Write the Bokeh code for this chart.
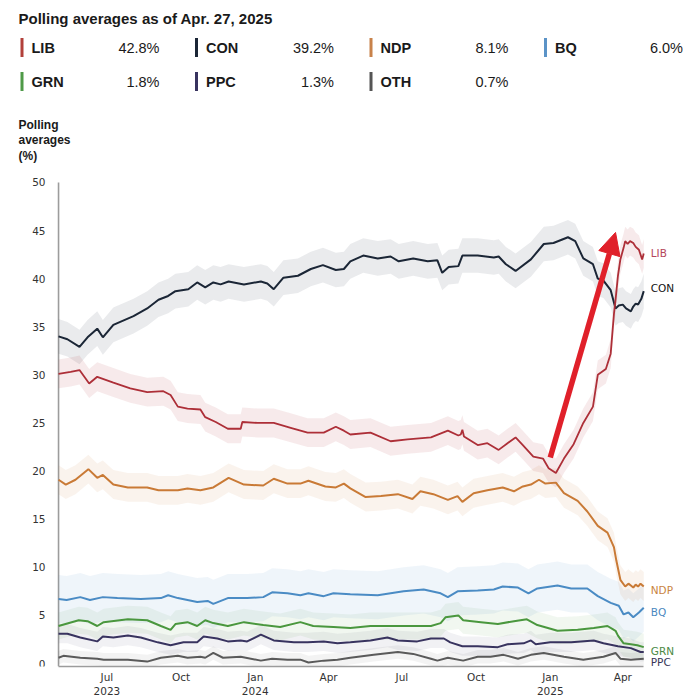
import numpy as np
import pandas as pd
from bokeh.plotting import figure
from bokeh.layouts import column
from bokeh.models import Range1d, FixedTicker, Label, Arrow, NormalHead
from bokeh.core.properties import value
from bokeh.embed import file_html
from bokeh.resources import INLINE

# ---------------- data ----------------
TITLE = "Polling averages as of Apr. 27, 2025"
Y_TITLE = ["Polling", "averages", "(%)"]
PARTIES = ["LIB", "CON", "NDP", "BQ", "GRN", "PPC", "OTH"]
LATEST = ["42.8%", "39.2%", "8.1%", "6.0%", "1.8%", "1.3%", "0.7%"]

CON_DATES = ["2023-05-02","2023-05-13","2023-05-28","2023-06-07","2023-06-19","2023-06-26","2023-07-09","2023-08-03","2023-08-20","2023-09-03","2023-09-15","2023-09-24","2023-10-10","2023-10-21","2023-10-31","2023-11-10","2023-11-19","2023-11-29","2023-12-18","2024-01-08","2024-01-16","2024-01-24","2024-02-05","2024-02-23","2024-03-10","2024-03-25","2024-04-10","2024-04-20","2024-04-28","2024-05-14","2024-06-01","2024-06-17","2024-06-27","2024-07-15","2024-08-02","2024-08-14","2024-08-20","2024-08-28","2024-09-09","2024-09-14","2024-10-03","2024-10-23","2024-10-29","2024-11-07","2024-11-19","2024-12-08","2024-12-24","2025-01-05","2025-01-23","2025-02-01","2025-02-11","2025-02-23","2025-03-01","2025-03-08","2025-03-17","2025-03-23","2025-03-27","2025-04-01","2025-04-05","2025-04-11","2025-04-14","2025-04-17","2025-04-20","2025-04-24","2025-04-27"]
CON_VALUES = [34.0,33.7,32.9,33.9,34.8,33.9,35.2,36.1,36.9,37.8,38.2,38.7,38.9,39.6,39.1,39.6,39.4,39.7,39.4,39.7,39.5,38.9,40.1,40.3,41.0,41.4,40.9,41.0,41.8,42.4,42.1,42.3,41.8,42.1,41.8,41.9,40.6,41.2,41.3,42.4,42.4,42.2,42.3,41.5,40.8,42.0,43.6,43.7,44.3,43.9,42.1,41.5,40.0,39.8,38.8,36.9,37.2,37.3,36.9,36.6,37.1,37.4,37.3,37.9,38.7]

LIB_DATES = ["2023-05-02","2023-05-17","2023-05-28","2023-06-09","2023-06-19","2023-07-09","2023-07-30","2023-08-20","2023-09-09","2023-09-18","2023-09-27","2023-10-09","2023-10-25","2023-10-31","2023-11-13","2023-11-28","2023-12-14","2023-12-16","2024-01-04","2024-01-24","2024-02-14","2024-03-06","2024-03-26","2024-04-10","2024-04-20","2024-04-28","2024-05-23","2024-06-17","2024-07-08","2024-08-06","2024-08-27","2024-09-09","2024-09-12","2024-09-14","2024-09-16","2024-10-03","2024-10-15","2024-10-29","2024-11-09","2024-11-19","2024-11-28","2024-12-11","2024-12-23","2024-12-30","2025-01-08","2025-01-18","2025-01-30","2025-02-11","2025-02-23","2025-03-01","2025-03-11","2025-03-17","2025-03-21","2025-03-23","2025-03-26","2025-03-29","2025-04-02","2025-04-04","2025-04-07","2025-04-10","2025-04-14","2025-04-17","2025-04-21","2025-04-25","2025-04-27"]
LIB_VALUES = [30.1,30.3,30.5,29.1,29.8,29.2,28.6,28.2,28.3,27.9,26.7,26.5,26.4,25.6,25.1,24.4,24.4,25.1,25.0,25.0,24.5,24.0,24.0,24.6,24.2,23.8,24.0,23.1,23.3,23.5,24.2,23.7,23.8,24.3,23.6,22.7,22.9,22.2,22.9,23.5,22.7,21.5,21.3,20.3,19.8,21.3,22.8,25.0,26.7,30.0,30.6,32.2,36.3,37.8,40.3,42.0,43.2,43.9,43.6,43.9,43.7,43.3,43.0,42.0,42.6]

NDP_DATES = ["2023-05-02","2023-05-11","2023-05-23","2023-06-08","2023-06-19","2023-06-26","2023-07-09","2023-07-27","2023-08-20","2023-09-03","2023-09-27","2023-10-09","2023-10-25","2023-11-10","2023-11-29","2023-12-18","2024-01-11","2024-01-24","2024-02-10","2024-02-26","2024-03-07","2024-03-28","2024-04-10","2024-04-20","2024-04-28","2024-05-17","2024-06-05","2024-06-26","2024-07-14","2024-07-24","2024-08-09","2024-08-27","2024-09-08","2024-09-14","2024-09-28","2024-10-15","2024-11-03","2024-11-17","2024-11-28","2024-12-08","2024-12-18","2024-12-26","2025-01-08","2025-01-18","2025-02-04","2025-02-16","2025-03-01","2025-03-13","2025-03-21","2025-03-24","2025-03-29","2025-04-04","2025-04-08","2025-04-11","2025-04-14","2025-04-17","2025-04-20","2025-04-23","2025-04-27"]
NDP_VALUES = [19.1,18.6,19.1,20.2,19.3,19.6,18.6,18.3,18.3,18.0,18.0,18.2,18.0,18.3,19.3,18.6,18.5,19.2,18.7,18.7,19.0,18.4,18.3,18.7,18.2,17.3,17.4,17.6,17.1,17.9,17.6,17.0,17.4,16.8,17.7,18.0,18.3,17.9,18.4,18.6,19.1,18.7,18.8,17.7,16.9,15.8,14.3,13.6,12.1,10.7,8.7,8.0,8.3,8.1,7.9,8.2,8.0,8.3,8.0]

BQ_DATES = ["2023-05-02","2023-05-12","2023-05-29","2023-06-10","2023-06-26","2023-07-14","2023-08-12","2023-09-06","2023-09-15","2023-09-27","2023-10-21","2023-11-03","2023-11-10","2023-11-28","2023-12-22","2024-01-11","2024-01-22","2024-02-10","2024-02-26","2024-03-07","2024-03-26","2024-04-07","2024-04-28","2024-06-01","2024-07-03","2024-07-28","2024-08-18","2024-08-27","2024-09-08","2024-10-03","2024-10-23","2024-11-03","2024-11-22","2024-12-05","2024-12-16","2025-01-10","2025-01-27","2025-02-16","2025-03-01","2025-03-17","2025-03-27","2025-04-02","2025-04-08","2025-04-14","2025-04-21","2025-04-27"]
BQ_VALUES = [6.7,6.6,6.9,6.6,6.9,6.8,6.7,6.8,7.1,6.8,6.4,6.5,6.2,6.8,6.8,6.9,7.4,7.3,7.1,7.3,7.0,7.3,7.2,7.1,7.5,7.7,7.3,6.9,7.5,7.6,7.7,8.0,7.9,7.3,7.8,8.1,7.8,7.8,7.0,6.3,6.0,5.1,5.3,4.8,5.3,5.8]

GRN_DATES = ["2023-05-02","2023-05-27","2023-06-07","2023-06-19","2023-06-27","2023-07-27","2023-08-20","2023-09-06","2023-09-18","2023-09-24","2023-10-09","2023-10-21","2023-10-31","2023-11-10","2023-11-28","2023-12-18","2024-01-11","2024-02-01","2024-02-26","2024-03-13","2024-04-07","2024-04-28","2024-05-23","2024-06-26","2024-08-06","2024-08-18","2024-08-24","2024-09-09","2024-09-15","2024-10-07","2024-10-28","2024-11-17","2024-12-03","2024-12-16","2025-01-10","2025-02-04","2025-02-24","2025-03-13","2025-03-19","2025-03-23","2025-03-26","2025-04-02","2025-04-11","2025-04-19","2025-04-27"]
GRN_VALUES = [3.9,4.5,4.4,3.9,4.3,4.6,4.5,3.9,3.5,4.1,4.3,3.9,4.5,4.2,3.9,4.3,4.0,3.8,4.3,3.9,3.8,3.7,3.9,3.9,3.9,4.2,4.8,5.0,4.5,4.3,4.1,4.4,4.6,4.0,3.4,3.5,3.7,3.9,3.6,3.4,2.9,2.1,2.0,1.9,1.7]

PPC_DATES = ["2023-05-02","2023-05-13","2023-05-29","2023-06-19","2023-06-26","2023-07-09","2023-07-27","2023-08-12","2023-09-02","2023-09-18","2023-10-04","2023-10-21","2023-10-29","2023-11-15","2023-11-28","2023-12-14","2023-12-22","2024-01-08","2024-01-24","2024-02-18","2024-03-06","2024-03-26","2024-04-12","2024-04-28","2024-05-23","2024-06-13","2024-06-26","2024-07-20","2024-08-06","2024-08-22","2024-08-30","2024-09-14","2024-10-03","2024-10-28","2024-11-09","2024-11-29","2024-12-08","2024-12-14","2025-01-01","2025-01-27","2025-02-24","2025-03-08","2025-03-26","2025-04-11","2025-04-23","2025-04-27"]
PPC_VALUES = [3.1,3.1,2.7,2.3,2.8,2.7,2.9,2.7,2.2,1.9,2.2,2.2,2.8,2.6,2.3,2.4,2.3,3.0,2.4,2.2,2.2,2.3,2.1,2.2,2.4,2.7,2.4,2.3,2.6,2.6,2.2,1.8,1.8,1.7,2.0,2.1,2.4,2.0,2.2,2.2,2.4,2.1,1.8,1.6,1.2,1.2]

OTH_DATES = ["2023-05-02","2023-05-08","2023-05-29","2023-06-19","2023-06-27","2023-07-27","2023-08-20","2023-09-06","2023-09-27","2023-10-09","2023-10-25","2023-10-31","2023-11-10","2023-11-22","2023-12-14","2024-01-08","2024-01-22","2024-02-10","2024-02-26","2024-03-07","2024-03-26","2024-04-12","2024-04-28","2024-05-27","2024-06-26","2024-07-15","2024-08-06","2024-08-14","2024-08-27","2024-09-15","2024-10-03","2024-10-19","2024-11-04","2024-11-22","2024-12-08","2024-12-24","2025-01-18","2025-02-11","2025-03-08","2025-03-23","2025-03-29","2025-04-11","2025-04-27"]
OTH_VALUES = [0.6,0.8,0.6,0.5,0.4,0.4,0.2,0.6,0.8,0.6,0.7,0.6,1.1,0.6,0.7,0.3,0.5,0.4,0.4,0.1,0.3,0.4,0.6,0.9,1.2,1.0,0.5,0.3,0.6,0.3,0.7,0.7,0.9,0.5,0.9,1.1,0.7,0.4,0.7,1.1,0.5,0.4,0.5]

# uncertainty half-widths of the shaded bands
BAND_MARGIN = {"LIB": 1.5, "CON": 1.8, "NDP": 1.5, "BQ": 2.5, "GRN": 1.4, "PPC": 1.0, "OTH": 0.7}

# end-of-line labels (party, label y value)
END_LABELS = [("LIB", 42.7), ("CON", 39.0), ("NDP", 7.6), ("BQ", 5.4), ("GRN", 1.35), ("PPC", 0.2)]

TICK_DATES = ["2023-07-01","2023-10-01","2024-01-01","2024-04-01","2024-07-01","2024-10-01","2025-01-01","2025-04-01"]
TICK_LABELS = ["Jul\n2023","Oct","Jan\n2024","Apr","Jul","Oct","Jan\n2025","Apr"]
Y_TICKS = [0, 5, 10, 15, 20, 25, 30, 35, 40, 45, 50]

X_START, X_END = "2023-05-02", "2025-04-27"
X_VIEW = ("2023-02-19", "2025-06-24")   # room for y tick labels and end labels
Y_VIEW = (-0.31, 51.03)
ARROW_FROM = ("2025-01-01", 21.4)
ARROW_TO = ("2025-03-23", 44.8)

SERIES = {
    "LIB": (LIB_DATES, LIB_VALUES),
    "CON": (CON_DATES, CON_VALUES),
    "NDP": (NDP_DATES, NDP_VALUES),
    "BQ": (BQ_DATES, BQ_VALUES),
    "GRN": (GRN_DATES, GRN_VALUES),
    "PPC": (PPC_DATES, PPC_VALUES),
    "OTH": (OTH_DATES, OTH_VALUES),
}

# ---------------- style ----------------
LINE_COLORS = {"LIB": "#ad2f38", "CON": "#1b2636", "NDP": "#c97a36", "BQ": "#4a8bc4",
               "GRN": "#4a973e", "PPC": "#38335f", "OTH": "#5a5a5a"}
KEY_COLORS = {"LIB": "#b2403a", "CON": "#1b2636", "NDP": "#c8824a", "BQ": "#5b93c7",
              "GRN": "#4f9a48", "PPC": "#38335f", "OTH": "#555555"}
LABEL_COLORS = {"LIB": "#b4465a", "CON": "#111111", "NDP": "#c9843f", "BQ": "#4a88c0",
                "GRN": "#4b8a45", "PPC": "#363457"}
BAND_ALPHA = {"LIB": 0.10, "CON": 0.09, "NDP": 0.09, "BQ": 0.09, "GRN": 0.08, "PPC": 0.07, "OTH": 0.07}
HEAD_FONT = "Liberation Sans"
TICK_FONT = "DejaVu Sans"
TEXT_DARK = "#1a1a1a"
AXIS_COLOR = "#9c9c9c"

W = 695
HEAD_H = 165
MAIN_H = 699 - HEAD_H
BR = 5


def ms(d):
    return pd.Timestamp(d).value / 1e6


# ---------------- header (title, key, y-axis title) ----------------
head = figure(width=W, height=HEAD_H, x_range=Range1d(0, W - BR), y_range=Range1d(HEAD_H, 0),
              output_backend="svg", toolbar_location=None, title=None,
              x_axis_location=None, y_axis_location=None,
              min_border_left=0, min_border_right=BR, min_border_top=0, min_border_bottom=0)
head.outline_line_color = None
head.grid.visible = False

head.text(x=[18], y=[18], text=[TITLE], text_font=value(HEAD_FONT), text_font_style="bold",
          text_font_size=value("15px"), text_baseline="middle", text_color=TEXT_DARK)

cols = [i % 4 for i in range(len(PARTIES))]
rows = [i // 4 for i in range(len(PARTIES))]
bar_x = [20 + c * 174.5 for c in cols]
row_y = [47 + r * 34 for r in rows]
head.quad(left=bar_x, right=[b + 3 for b in bar_x],
          top=[y - 9.5 for y in row_y], bottom=[y + 9.5 for y in row_y],
          fill_color=[KEY_COLORS[pp] for pp in PARTIES], line_color=None)
head.text(x=[b + 11 for b in bar_x], y=row_y, text=PARTIES, text_font=value(HEAD_FONT),
          text_font_style="bold", text_font_size=value("14.5px"), text_baseline="middle",
          text_color=TEXT_DARK)
head.text(x=[b + 139 for b in bar_x], y=row_y, text=LATEST, text_font=value(HEAD_FONT),
          text_font_size=value("14.5px"), text_baseline="middle", text_align="right",
          text_color=TEXT_DARK)
head.text(x=[18, 18, 18], y=[124, 139.5, 155], text=Y_TITLE, text_font=value(HEAD_FONT),
          text_font_style="bold", text_font_size=value("12px"), text_baseline="middle",
          text_color=TEXT_DARK)

# ---------------- main chart ----------------
p = figure(width=W, height=MAIN_H, x_axis_type="datetime",
           x_range=Range1d(pd.Timestamp(X_VIEW[0]), pd.Timestamp(X_VIEW[1])),
           y_range=Range1d(*Y_VIEW), y_axis_location=None,
           output_backend="svg", toolbar_location=None, title=None,
           min_border_left=0, min_border_right=BR, min_border_top=7, min_border_bottom=30)
p.outline_line_color = None
p.grid.visible = False
p.background_fill_color = "white"
p.border_fill_color = "white"

ax = p.xaxis[0]
ax.axis_line_color = AXIS_COLOR
ax.axis_line_width = 1.6
ax.major_tick_line_color = None
ax.minor_tick_line_color = None
ax.major_tick_out = 0
ax.major_tick_in = 0
ax.minor_tick_out = 0
ax.minor_tick_in = 0
ax.major_label_text_font = TICK_FONT
ax.major_label_text_font_size = "10.5px"
ax.major_label_text_color = "#333333"
tick_ms = [ms(d) for d in TICK_DATES]
ax.ticker = FixedTicker(ticks=tick_ms)
ax.major_label_overrides = {t: lab for t, lab in zip(tick_ms, TICK_LABELS)}
ax.major_label_standoff = 4
ax.bounds = (ms(X_START), ms(X_END))

# vertical value axis: line at the first date plus its tick labels
x0 = pd.Timestamp(X_START)
p.segment(x0=[x0], y0=[Y_VIEW[0]], x1=[x0], y1=[Y_TICKS[-1]], line_color=AXIS_COLOR, line_width=1.6)
p.text(x=[x0] * len(Y_TICKS), y=Y_TICKS, text=[str(t) for t in Y_TICKS], x_offset=-13,
       text_align="right", text_baseline="middle", text_font=value(TICK_FONT),
       text_font_size=value("10.5px"), text_color="#333333")

# bands
for party in ["OTH", "PPC", "GRN", "BQ", "NDP", "CON", "LIB"]:
    dates, vals = SERIES[party]
    x = pd.to_datetime(dates)
    v = np.array(vals)
    m = BAND_MARGIN[party]
    p.varea(x=x, y1=v - m, y2=v + m, fill_color=LINE_COLORS[party], fill_alpha=BAND_ALPHA[party])

# lines
for party in ["OTH", "PPC", "GRN", "BQ", "NDP", "CON", "LIB"]:
    dates, vals = SERIES[party]
    p.line(pd.to_datetime(dates), vals, line_color=LINE_COLORS[party],
           line_width=1.8 if party == "LIB" else 2.0)

# end labels
for party, yv in END_LABELS:
    p.add_layout(Label(x=pd.Timestamp(SERIES[party][0][-1]), y=yv, x_offset=7, text=party,
                       text_font=TICK_FONT, text_font_size="10.5px", text_baseline="middle",
                       text_color=LABEL_COLORS[party]))

# arrow
red = "#e0202a"
p.add_layout(Arrow(end=NormalHead(size=22, fill_color=red, line_color=red),
                   x_start=ms(ARROW_FROM[0]), y_start=ARROW_FROM[1],
                   x_end=ms(ARROW_TO[0]), y_end=ARROW_TO[1],
                   line_color=red, line_width=5.5))

layout = column(head, p, spacing=0)
open("out.html", "w").write(file_html(layout, INLINE))
